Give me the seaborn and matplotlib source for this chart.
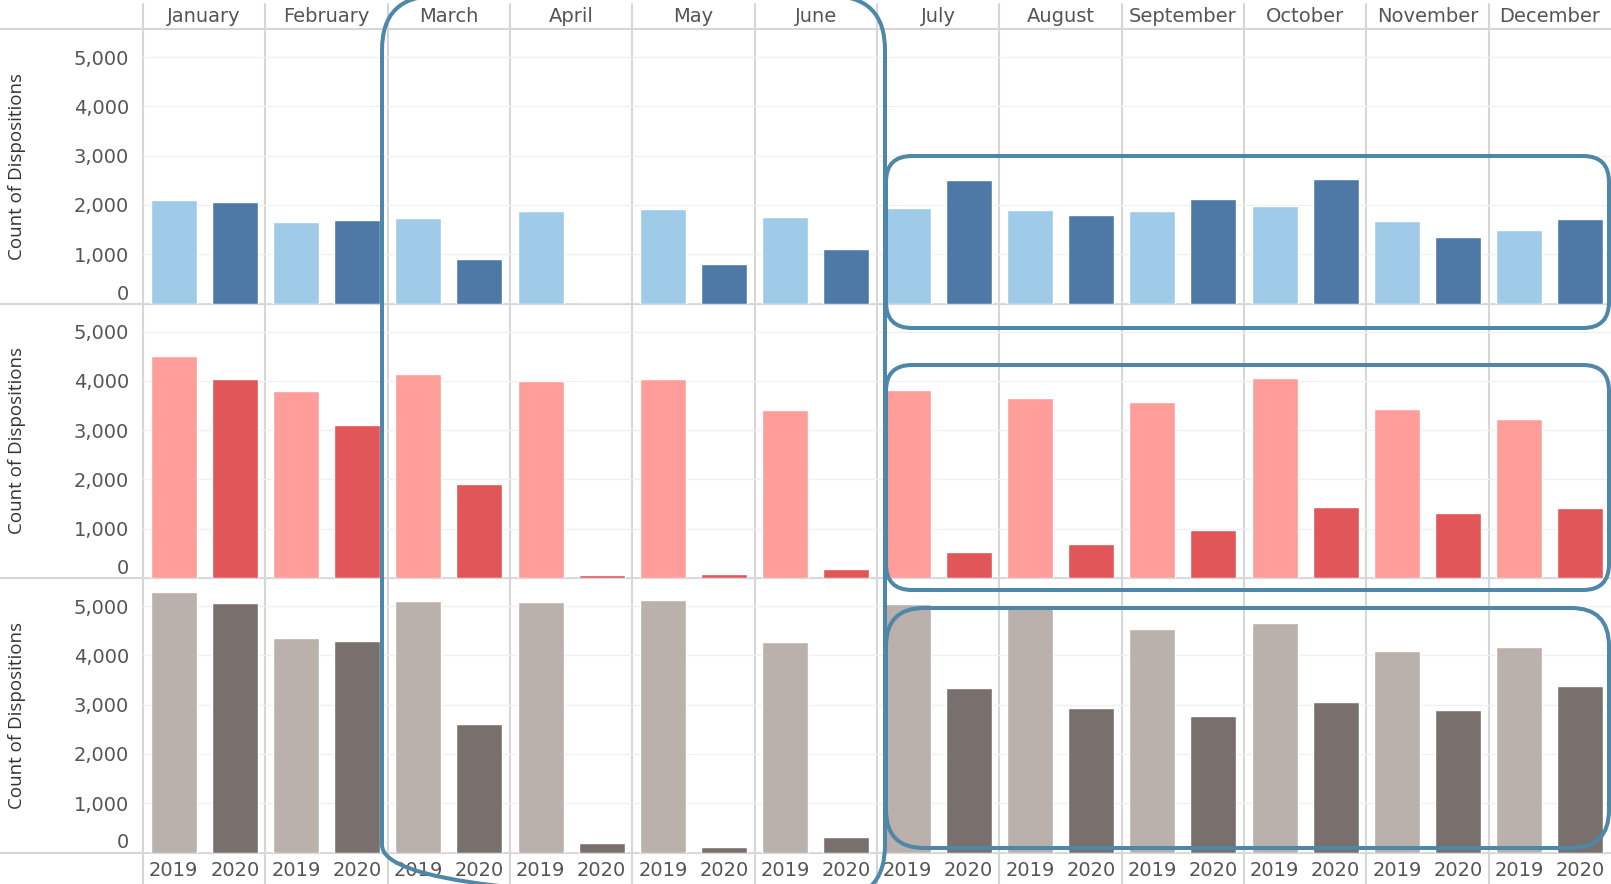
import numpy as np
import pandas as pd
import matplotlib
import matplotlib.pyplot as plt
import seaborn as sns
from matplotlib.lines import Line2D
from matplotlib.patches import FancyBboxPatch
from matplotlib.transforms import blended_transform_factory

matplotlib.use('Agg')

# ---- data ----
months = ['January', 'February', 'March', 'April', 'May', 'June',
          'July', 'August', 'September', 'October', 'November', 'December']
years = ['2019', '2020']

blue_2019 = [2100, 1650, 1730, 1880, 1920, 1750, 1940, 1890, 1870, 1980, 1670, 1500]
blue_2020 = [2060, 1700, 900, 0, 810, 1100, 2510, 1790, 2120, 2520, 1350, 1710]
red_2019 = [4500, 3790, 4140, 3990, 4030, 3410, 3820, 3660, 3580, 4050, 3430, 3220]
red_2020 = [4040, 3100, 1910, 60, 80, 180, 530, 680, 970, 1450, 1320, 1430]
gray_2019 = [5290, 4360, 5100, 5080, 5120, 4270, 5050, 5000, 4540, 4660, 4090, 4160]
gray_2020 = [5060, 4290, 2610, 190, 120, 320, 3330, 2940, 2770, 3060, 2900, 3370]

y_ticks = [0, 1000, 2000, 3000, 4000, 5000]
y_label = 'Count of Dispositions'

rows = [
    (blue_2019, blue_2020, {'2019': '#a0cbe8', '2020': '#4e79a7'}),
    (red_2019, red_2020, {'2019': '#ff9d9a', '2020': '#e15759'}),
    (gray_2019, gray_2020, {'2019': '#bab0ac', '2020': '#79706e'}),
]

# ---- layout (figure pixels) ----
W, H = 1611, 884
left_px, right_px = 143, 1611
row_tops = [29, 303.5, 578]
row_h = 274.5
y_max = 5568
sep_color = '#d6d6d6'
text_color = '#555555'
box_color = '#4f87a9'

sns.set_style('white')
plt.rcParams['font.family'] = ['DejaVu Sans']

fig = plt.figure(figsize=(W / 100, H / 100), dpi=100)

axes = []
for i, (v19, v20, pal) in enumerate(rows):
    df = pd.DataFrame({
        'month': months * 2,
        'year': ['2019'] * 12 + ['2020'] * 12,
        'count': list(v19) + list(v20),
    })
    bottom = H - (row_tops[i] + row_h)
    ax = fig.add_axes([left_px / W, bottom / H, (right_px - left_px) / W, row_h / H])
    ax.patch.set_alpha(0)
    sns.barplot(data=df, x='month', y='count', hue='year', order=months, hue_order=years,
                palette=pal, width=1.0, gap=0.25, saturation=1, errorbar=None,
                legend=False, ax=ax)
    ax.set_xlim(-0.5, 11.5)
    ax.set_ylim(0, y_max)
    ax.set_yticks(y_ticks)
    ax.set_yticklabels([f'{t:,}' for t in y_ticks])
    ax.tick_params(axis='y', length=0, pad=10, labelsize=14, labelcolor=text_color)
    ax.get_yticklabels()[0].set_verticalalignment('bottom')
    ax.yaxis.grid(True, color='#f0f0f0', lw=1)
    ax.set_axisbelow(True)
    for s in ax.spines.values():
        s.set_visible(False)
    ax.set_xlabel('')
    ax.set_ylabel(y_label, fontsize=13.5, color='#333333', family=['Open Sans', 'DejaVu Sans'])
    ax.yaxis.set_label_coords((26 - left_px) / (right_px - left_px), 0.5)
    if i < 2:
        ax.set_xticks([])
    axes.append(ax)

# year labels under the bottom row
ax_b = axes[-1]
pos = np.arange(len(months))
ticks = np.sort(np.concatenate([pos - 0.25, pos + 0.25]))
ax_b.set_xticks(ticks)
ax_b.set_xticklabels(years * len(months))
ax_b.tick_params(axis='x', length=0, pad=6, labelsize=14, labelcolor=text_color)

# month header on top
ax_t = axes[0]
trans = blended_transform_factory(ax_t.transData, fig.transFigure)
for k, m in enumerate(months):
    ax_t.text(k, 1 - 17 / H, m, transform=trans, ha='center', va='center',
              fontsize=14, color=text_color, clip_on=False)

# separators: vertical between months, horizontal between rows (behind the bars)
for k in range(len(months)):
    fig.add_artist(Line2D([k - 0.5, k - 0.5], [0, 1 - 4 / H], transform=trans,
                          color=sep_color, lw=1.5, zorder=-1))
for y in [29] + [t + row_h for t in row_tops]:
    fig.add_artist(Line2D([0, 1], [1 - y / H, 1 - y / H], transform=fig.transFigure,
                          color=sep_color, lw=1.5, zorder=-1))

# highlight boxes drawn on a pixel overlay
ov = fig.add_axes([0, 0, 1, 1])
ov.set_xlim(0, W)
ov.set_ylim(H, 0)
ov.axis('off')
ov.patch.set_alpha(0)
boxes = [
    (382, -4, 503, 903, 54),
    (886, 156, 723, 172, 26),
    (886, 365, 723, 225, 26),
    (886, 608, 723, 240, 38),
]
for x, y, w, h, r in boxes:
    ov.add_patch(FancyBboxPatch((x, y), w, h, boxstyle=f'round,pad=0,rounding_size={r}',
                                fill=False, ec=box_color, lw=2.9))

fig.savefig('out.png', dpi=100, facecolor='white')
